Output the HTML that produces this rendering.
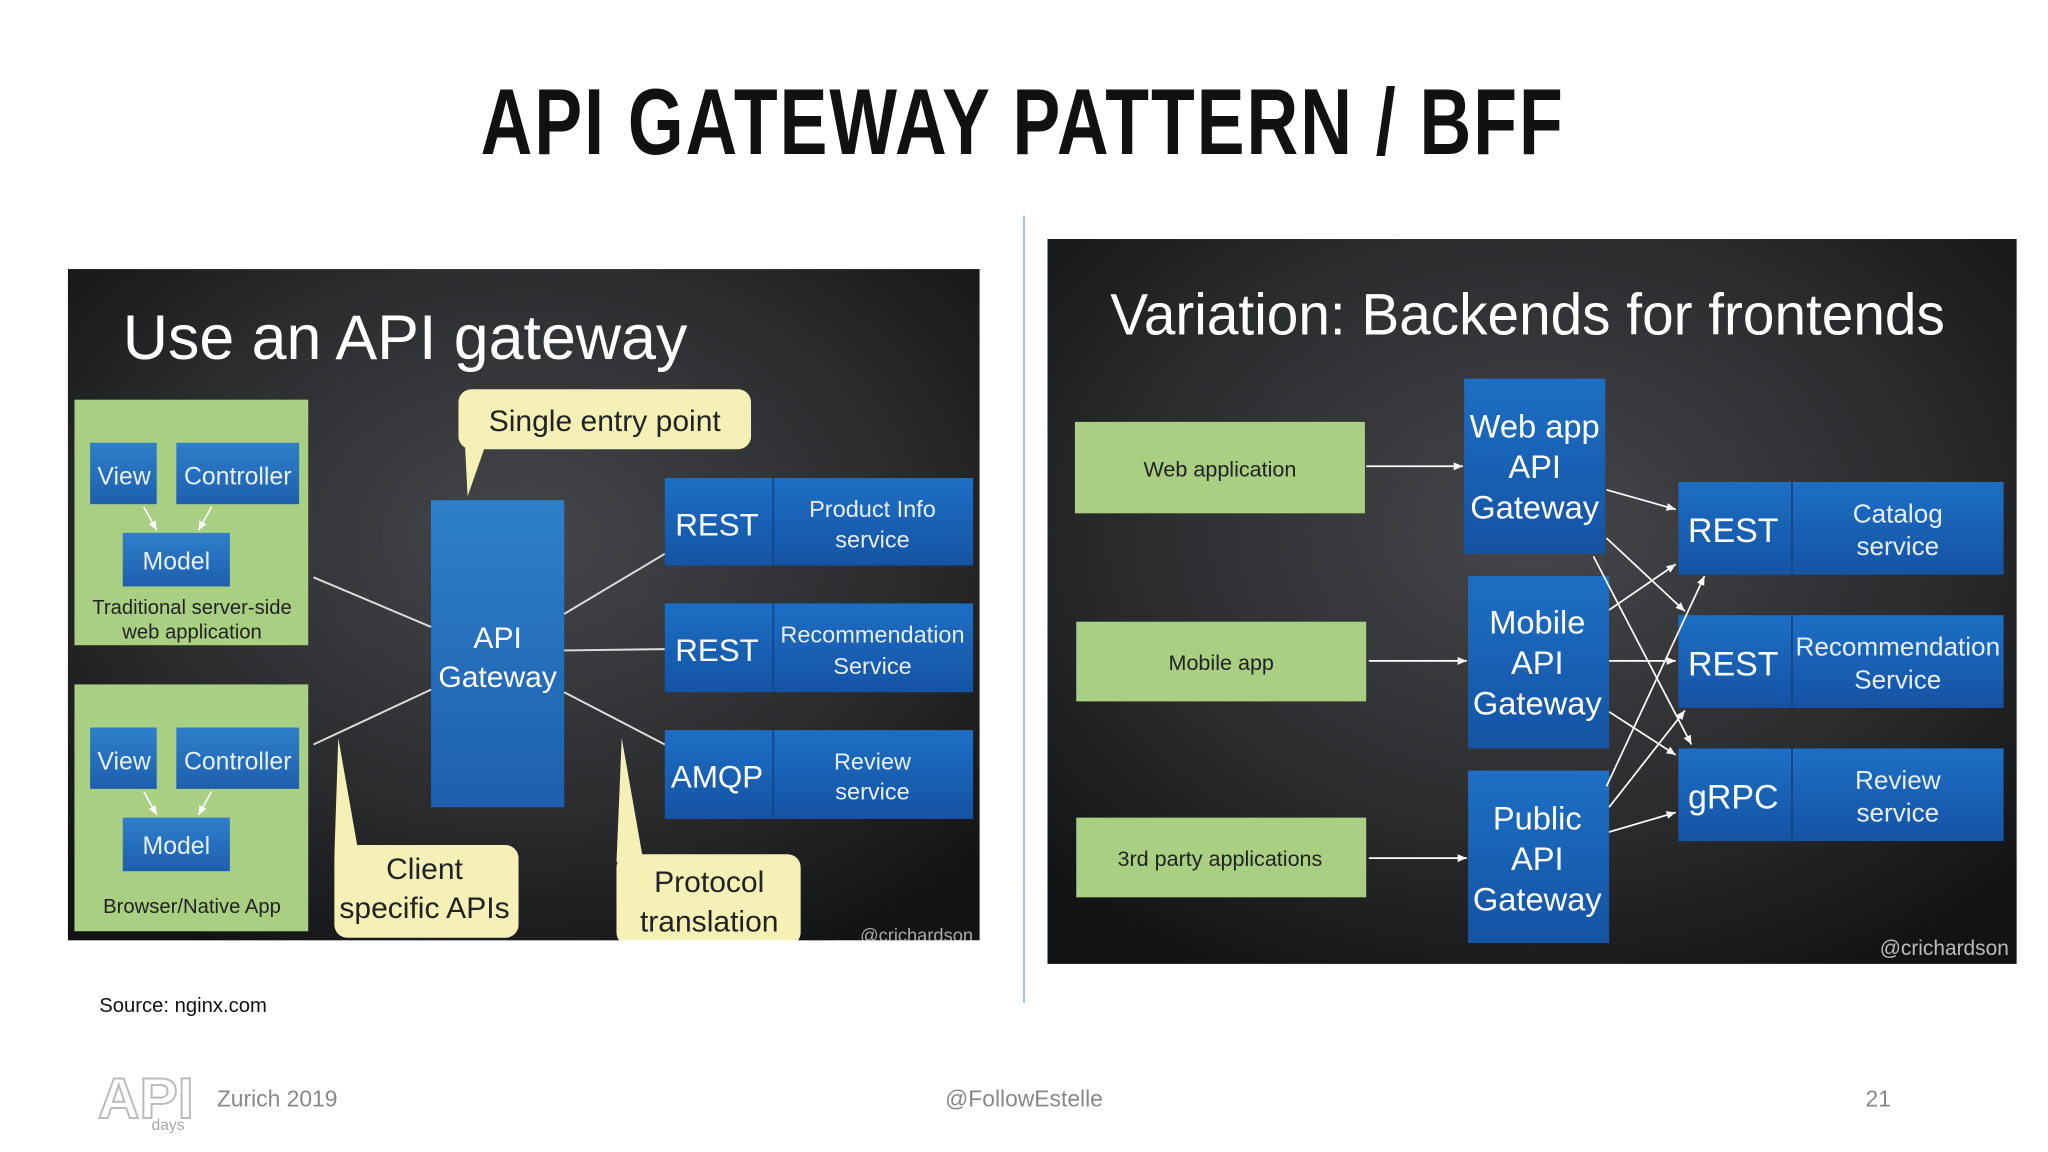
<!DOCTYPE html>
<html><head><meta charset="utf-8">
<style>
html,body{margin:0;padding:0;background:#fff;width:2048px;height:1152px;overflow:hidden}
svg{display:block}
text{font-family:"Liberation Sans",sans-serif}
</style></head><body>
<svg width="2048" height="1152" viewBox="0 0 1568 882" xmlns="http://www.w3.org/2000/svg">
<defs>
<radialGradient id="bg" cx="50%" cy="40%" r="70%">
<stop offset="0" stop-color="#45474a"/><stop offset="0.6" stop-color="#2a2b2d"/><stop offset="1" stop-color="#121314"/>
</radialGradient>
<linearGradient id="bl" x1="0" y1="0" x2="0" y2="1">
<stop offset="0" stop-color="#2f7fca"/><stop offset="1" stop-color="#1d5fae"/>
</linearGradient>
<linearGradient id="bl2" x1="0" y1="0" x2="0" y2="1">
<stop offset="0" stop-color="#1d6fc4"/><stop offset="1" stop-color="#1553a4"/>
</linearGradient>
<marker id="ar" markerWidth="8" markerHeight="8" refX="7" refY="4" orient="auto" markerUnits="userSpaceOnUse">
<path d="M0,1 L7,4 L0,7 z" fill="#fff"/></marker>
</defs>

<text x="783" y="118" text-anchor="middle" font-size="72" font-weight="bold" font-family="DejaVu Sans Condensed, Liberation Sans, sans-serif" textLength="830" lengthAdjust="spacingAndGlyphs" fill="#111" letter-spacing="2">API GATEWAY PATTERN / BFF</text>

<line x1="784" y1="165" x2="784" y2="768" stroke="#9fc3e3" stroke-width="1.5"/>

<rect x="52" y="206" width="698" height="514" fill="url(#bg)"/>
<text x="94" y="275" font-size="48" fill="#fff">Use an API gateway</text>

<g fill="#a9cf83"><rect x="57" y="306" width="179" height="188"/><rect x="57" y="524" width="179" height="189"/></g>
<g fill="url(#bl)">
<rect x="69" y="339" width="51" height="47"/><rect x="135" y="339" width="94" height="47"/><rect x="94" y="408" width="82" height="41"/>
<rect x="69" y="557" width="51" height="47"/><rect x="135" y="557" width="94" height="47"/><rect x="94" y="626" width="82" height="41"/>
</g>
<g font-size="19" fill="#e8f0fa" text-anchor="middle">
<text x="95" y="371">View</text><text x="182" y="371">Controller</text><text x="135" y="436">Model</text>
<text x="95" y="589">View</text><text x="182" y="589">Controller</text><text x="135" y="654">Model</text>
</g>
<g stroke="#fff" stroke-width="1.2" marker-end="url(#ar)">
<line x1="110" y1="388" x2="120" y2="406"/><line x1="162" y1="388" x2="152" y2="406"/>
<line x1="110" y1="606" x2="120" y2="624"/><line x1="162" y1="606" x2="152" y2="624"/>
</g>
<g font-size="15.5" fill="#222" text-anchor="middle">
<text x="147" y="470">Traditional server-side</text><text x="147" y="489">web application</text>
<text x="147" y="699">Browser/Native App</text>
</g>

<rect x="330" y="383" width="102" height="235" fill="url(#bl)"/>
<g font-size="23" fill="#fff" text-anchor="middle"><text x="381" y="496">API</text><text x="381" y="526">Gateway</text></g>

<g stroke="#ddd" stroke-width="1.5">
<line x1="240" y1="442" x2="330" y2="480"/><line x1="240" y1="570" x2="330" y2="528"/>
<line x1="432" y1="470" x2="509" y2="424"/><line x1="432" y1="498" x2="509" y2="497"/><line x1="432" y1="530" x2="509" y2="570"/>
</g>

<g fill="url(#bl2)">
<rect x="509" y="366" width="236" height="67"/><rect x="509" y="462" width="236" height="68"/><rect x="509" y="559" width="236" height="68"/>
</g>
<g stroke="#0f4a90" stroke-width="1.5"><line x1="592" y1="366" x2="592" y2="433"/><line x1="592" y1="462" x2="592" y2="530"/><line x1="592" y1="559" x2="592" y2="627"/></g>
<g fill="#fff" text-anchor="middle">
<text x="549" y="410" font-size="24">REST</text><text x="549" y="506" font-size="24">REST</text><text x="549" y="603" font-size="24">AMQP</text>
<g font-size="18" fill="#e6eef8"><text x="668" y="396">Product Info</text><text x="668" y="419">service</text>
<text x="668" y="492">Recommendation</text><text x="668" y="516">Service</text>
<text x="668" y="589">Review</text><text x="668" y="612">service</text></g>
</g>

<g fill="#f5f1b6">
<rect x="351" y="298" width="224" height="46" rx="10"/><path d="M356,340 L372,340 L358,380 z"/>
<rect x="256" y="647" width="141" height="71" rx="10"/><path d="M256,655 L259,565 L274,650 z"/>
<rect x="472" y="654" width="141" height="70" rx="10"/><path d="M472,660 L476,565 L492,656 z"/>
</g>
<rect x="52" y="720" width="700" height="10" fill="#fff"/>
<g font-size="23" fill="#222" text-anchor="middle">
<text x="463" y="330">Single entry point</text>
<text x="325" y="673">Client</text><text x="325" y="703">specific APIs</text>
<text x="543" y="683">Protocol</text><text x="543" y="713">translation</text>
</g>
<text x="745" y="721" font-size="14" fill="#aaa" text-anchor="end">@crichardson</text>
<rect x="640" y="720" width="112" height="10" fill="#fff"/>

<rect x="802" y="183" width="742" height="555" fill="url(#bg)"/>
<text x="850" y="256" font-size="45" fill="#fff" textLength="639" lengthAdjust="spacingAndGlyphs">Variation: Backends for frontends</text>

<g fill="#a9cf83">
<rect x="823" y="323" width="222" height="70"/><rect x="824" y="476" width="222" height="61"/><rect x="824" y="626" width="222" height="61"/>
</g>
<g font-size="16.5" fill="#222" text-anchor="middle">
<text x="934" y="365">Web application</text><text x="935" y="513">Mobile app</text><text x="934" y="663">3rd party applications</text>
</g>

<g fill="url(#bl2)">
<rect x="1121" y="290" width="108" height="134"/><rect x="1124" y="441" width="108" height="132"/><rect x="1124" y="590" width="108" height="132"/>
</g>
<g font-size="25" fill="#fff" text-anchor="middle">
<text x="1175" y="335">Web app</text><text x="1175" y="366">API</text><text x="1175" y="397">Gateway</text>
<text x="1177" y="485">Mobile</text><text x="1177" y="516">API</text><text x="1177" y="547">Gateway</text>
<text x="1177" y="635">Public</text><text x="1177" y="666">API</text><text x="1177" y="697">Gateway</text>
</g>

<g fill="url(#bl2)">
<rect x="1285" y="369" width="249" height="71"/><rect x="1285" y="471" width="249" height="71"/><rect x="1285" y="573" width="249" height="71"/>
</g>
<g stroke="#0f4a90" stroke-width="1.5"><line x1="1372" y1="369" x2="1372" y2="440"/><line x1="1372" y1="471" x2="1372" y2="542"/><line x1="1372" y1="573" x2="1372" y2="644"/></g>
<g fill="#fff" text-anchor="middle">
<text x="1327" y="415" font-size="26">REST</text><text x="1327" y="517" font-size="26">REST</text><text x="1327" y="619" font-size="26">gRPC</text>
<g font-size="20" fill="#e6eef8"><text x="1453" y="400">Catalog</text><text x="1453" y="425">service</text>
<text x="1453" y="502">Recommendation</text><text x="1453" y="527">Service</text>
<text x="1453" y="604">Review</text><text x="1453" y="629">service</text></g>
</g>

<g stroke="#fff" stroke-width="1.3" marker-end="url(#ar)" fill="none">
<line x1="1046" y1="357" x2="1120" y2="357"/><line x1="1048" y1="506" x2="1123" y2="506"/><line x1="1048" y1="657" x2="1123" y2="657"/>
<line x1="1230" y1="375" x2="1283" y2="390"/><line x1="1230" y1="412" x2="1290" y2="468"/><line x1="1220" y1="426" x2="1295" y2="570"/>
<line x1="1232" y1="467" x2="1283" y2="432"/><line x1="1232" y1="506" x2="1283" y2="506"/><line x1="1232" y1="545" x2="1283" y2="578"/>
<line x1="1230" y1="602" x2="1305" y2="441"/><line x1="1232" y1="618" x2="1290" y2="544"/><line x1="1232" y1="637" x2="1283" y2="622"/>
</g>
<text x="1538" y="731" font-size="16" fill="#bbb" text-anchor="end">@crichardson</text>

<text x="76" y="775" font-size="15.5" fill="#111">Source: nginx.com</text>
<g font-size="17.5" fill="#888">
<text x="166" y="847">Zurich 2019</text>
<text x="784" y="847" text-anchor="middle">@FollowEstelle</text>
<text x="1438" y="847" text-anchor="middle">21</text>
</g>
<text x="75" y="856" font-size="44" fill="none" stroke="#bbb" stroke-width="1.5" font-weight="bold">API</text>
<text x="116" y="865" font-size="12" fill="#aaa">days</text>
</svg>
</body></html>
